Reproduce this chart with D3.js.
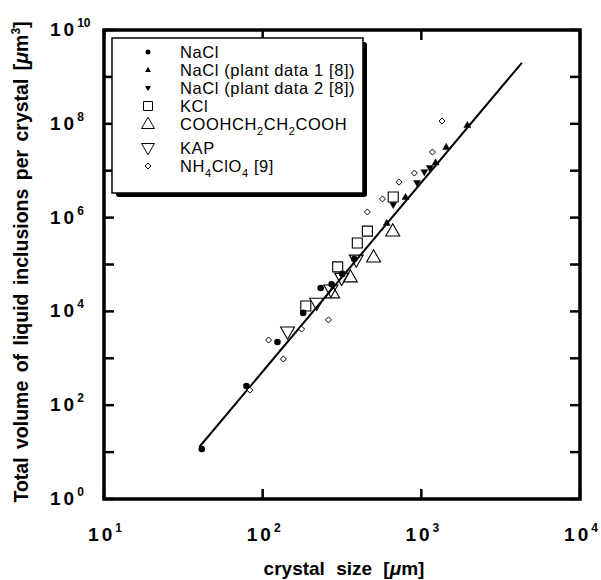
<!DOCTYPE html>
<html><head><meta charset="utf-8">
<script src="https://cdn.jsdelivr.net/npm/d3@7"></script>
<style>
body{margin:0;background:#fff;}
text{font-family:"Liberation Sans",Arial,sans-serif;fill:#000;}
</style></head><body>
<svg id="c" width="601" height="580"></svg>
<script>
// ---- data ----
const naclX = [41.3, 79, 124, 180, 232, 272, 318, 378];
const naclY = [11.6, 257, 2230, 9300, 31600, 38000, 63000, 131000];
const plant1X = [605, 795, 1230, 1435, 1950];
const plant1Y = [7.65e5, 2.75e6, 1.5e7, 3.2e7, 9.4e7];
const plant2X = [665, 940, 1045, 1130];
const plant2Y = [1.86e6, 5.5e6, 9.3e6, 1.14e7];
const kclX = [187, 297, 395, 457, 665];
const kclY = [13000, 89000, 288000, 515000, 2.75e6];
const coohX = [276, 357, 500, 660];
const coohY = [24700, 54000, 144000, 516000];
const kapX = [143.5, 219, 269, 315, 389];
const kapY = [3650, 15000, 28700, 51000, 125000];
const nh4X = [83, 109, 135, 176, 260, 457, 569, 724, 904, 1175, 1350];
const nh4Y = [210, 2450, 967, 4200, 6600, 1.32e6, 2.5e6, 5.7e6, 8.9e6, 2.5e7, 1.15e8];
const fitX = [40, 4300];
const fitY = [13, 2.0e9];
const xTicks = [10, 100, 1000, 10000];
const xTickExp = ["1", "2", "3", "4"];
const yTicks = [1, 1e2, 1e4, 1e6, 1e8, 1e10];
const yTickExp = ["0", "2", "4", "6", "8", "10"];
const yMinor = [1e1, 1e3, 1e5, 1e7, 1e9];
const legendLabels = ["NaCl", "NaCl (plant data 1 [8])", "NaCl (plant data 2 [8])", "KCl", "COOHCH_2CH_2COOH", "KAP", "NH_4ClO_4 [9]"];

// ---- layout ----
const L = 104, R = 580, T = 30, B = 499;
const x = d3.scaleLog().domain([10, 1e4]).range([L, R]);
const y = d3.scaleLog().domain([1, 1e10]).range([B, T]);
const svg = d3.select("#c");

// ticks (inside), all decades
const allY = yTicks.concat(yMinor);
const tk = 10;
svg.append("g").selectAll("line").data(allY).join("line")
  .attr("x1", L).attr("x2", L + tk).attr("y1", d => y(d)).attr("y2", d => y(d))
  .attr("stroke", "#000").attr("stroke-width", 2.5);
svg.append("g").selectAll("line").data(allY).join("line")
  .attr("x1", R).attr("x2", R - tk).attr("y1", d => y(d)).attr("y2", d => y(d))
  .attr("stroke", "#000").attr("stroke-width", 2.5);
svg.append("g").selectAll("line").data(xTicks).join("line")
  .attr("x1", d => x(d)).attr("x2", d => x(d)).attr("y1", B).attr("y2", B - tk)
  .attr("stroke", "#000").attr("stroke-width", 2.5);
svg.append("g").selectAll("line").data(xTicks).join("line")
  .attr("x1", d => x(d)).attr("x2", d => x(d)).attr("y1", T).attr("y2", T + tk)
  .attr("stroke", "#000").attr("stroke-width", 2.5);

// frame
svg.append("rect").attr("x", L).attr("y", T).attr("width", R - L).attr("height", B - T)
  .attr("fill", "none").attr("stroke", "#000").attr("stroke-width", 3.5);

// tick labels
const xl = svg.append("g").selectAll("text").data(xTicks).join("text")
  .attr("x", d => x(d) + 1).attr("y", 541).attr("text-anchor", "middle")
  .attr("font-size", 19).attr("font-weight", "bold");
xl.append("tspan").attr("letter-spacing", 3).text("10");
xl.append("tspan").attr("font-size", 12).attr("dy", -9).text((d, i) => xTickExp[i]);

const yl = svg.append("g").selectAll("text").data(yTicks).join("text")
  .attr("x", 50).attr("y", d => y(d) + 6)
  .attr("font-size", 19).attr("font-weight", "bold");
yl.append("tspan").attr("letter-spacing", 3).text("10");
yl.append("tspan").attr("font-size", 12).attr("dy", -9).text((d, i) => yTickExp[i]);

// axis titles
const xt = svg.append("text").attr("x", (L + R) / 2 + 2).attr("y", 575).attr("text-anchor", "middle")
  .attr("font-size", 19).attr("font-weight", "bold").attr("word-spacing", 6);
xt.append("tspan").text("crystal size [");
xt.append("tspan").attr("font-style", "italic").text("μ");
xt.append("tspan").text("m]");

const yt = svg.append("text").attr("transform", "translate(28,262) rotate(-90)")
  .attr("text-anchor", "middle").attr("font-size", 19.5).attr("font-weight", "bold").attr("word-spacing", 3);
yt.append("tspan").text("Total volume of liquid inclusions per crystal [");
yt.append("tspan").attr("font-style", "italic").text("μ");
yt.append("tspan").text("m");
yt.append("tspan").attr("font-size", 12).attr("dy", -8).text("3");
yt.append("tspan").attr("dy", 8).text("]");

// fit line
svg.append("line").attr("x1", x(fitX[0])).attr("y1", y(fitY[0])).attr("x2", x(fitX[1])).attr("y2", y(fitY[1]))
  .attr("stroke", "#000").attr("stroke-width", 2);

// marker helpers
function triUp(s){ const h = s*0.87; return `M0,${-h*0.6}L${s/2},${h*0.4}L${-s/2},${h*0.4}Z`; }
function triDown(s){ const h = s*0.87; return `M0,${h*0.6}L${s/2},${-h*0.4}L${-s/2},${-h*0.4}Z`; }
function diamond(s){ return `M0,${-s/2}L${s/2},0L0,${s/2}L${-s/2},0Z`; }
function square(s){ return `M${-s/2},${-s/2}h${s}v${s}h${-s}Z`; }

function pts(xs, ys, path, fill, sw){
  svg.append("g").selectAll("path").data(xs.map((v, i) => [v, ys[i]])).join("path")
    .attr("transform", d => `translate(${x(d[0])},${y(d[1])})`)
    .attr("d", path).attr("fill", fill).attr("stroke", "#000").attr("stroke-width", sw);
}
pts(nh4X, nh4Y, diamond(6), "#fff", 1);
pts(kclX, kclY, square(10), "none", 1.1);
pts(coohX, coohY, triUp(14), "none", 1.1);
pts(kapX, kapY, triDown(14), "none", 1.1);
pts(plant1X, plant1Y, triUp(7), "#000", 0.5);
pts(plant2X, plant2Y, triDown(7), "#000", 0.5);
svg.append("g").selectAll("circle").data(naclX.map((v, i) => [v, naclY[i]])).join("circle")
  .attr("cx", d => x(d[0])).attr("cy", d => y(d[1])).attr("r", 3.3).attr("fill", "#000");

// legend
const lgX = 112, lgY = 38, lgW = 251, lgH = 155;
svg.append("rect").attr("x", lgX + 4).attr("y", lgY + 4).attr("width", lgW).attr("height", lgH).attr("fill", "#000").attr("rx", 3);
svg.append("rect").attr("x", lgX).attr("y", lgY).attr("width", lgW).attr("height", lgH)
  .attr("fill", "#fff").attr("stroke", "#000").attr("stroke-width", 1.5);
const rowY = [52, 70, 88, 106, 124, 148, 166];
const mx = 148, tx = 180;
const lg = svg.append("g");
lg.append("circle").attr("cx", mx).attr("cy", rowY[0]).attr("r", 2.5).attr("fill", "#000");
lg.append("path").attr("transform", `translate(${mx},${rowY[1]})`).attr("d", triUp(6)).attr("fill", "#000");
lg.append("path").attr("transform", `translate(${mx},${rowY[2]})`).attr("d", triDown(6)).attr("fill", "#000");
lg.append("path").attr("transform", `translate(${mx},${rowY[3]})`).attr("d", square(9)).attr("fill", "none").attr("stroke", "#000").attr("stroke-width", 1);
lg.append("path").attr("transform", `translate(${mx},${rowY[4]})`).attr("d", triUp(13)).attr("fill", "none").attr("stroke", "#000").attr("stroke-width", 1);
lg.append("path").attr("transform", `translate(${mx},${rowY[5]})`).attr("d", triDown(13)).attr("fill", "none").attr("stroke", "#000").attr("stroke-width", 1);
lg.append("path").attr("transform", `translate(${mx},${rowY[6]})`).attr("d", diamond(6)).attr("fill", "none").attr("stroke", "#000").attr("stroke-width", 1);

legendLabels.forEach((lab, i) => {
  const t = lg.append("text").attr("x", tx).attr("y", rowY[i] + 6).attr("font-size", 16.5).attr("letter-spacing", 0.6);
  let shift = 0;
  lab.split(/(_\d)/).forEach(part => {
    if (!part) return;
    if (part[0] === "_") {
      t.append("tspan").attr("font-size", 11).attr("dy", 5).text(part.slice(1));
      shift = -5;
    } else {
      t.append("tspan").attr("dy", shift).text(part);
      shift = 0;
    }
  });
});
</script>
</body></html>
